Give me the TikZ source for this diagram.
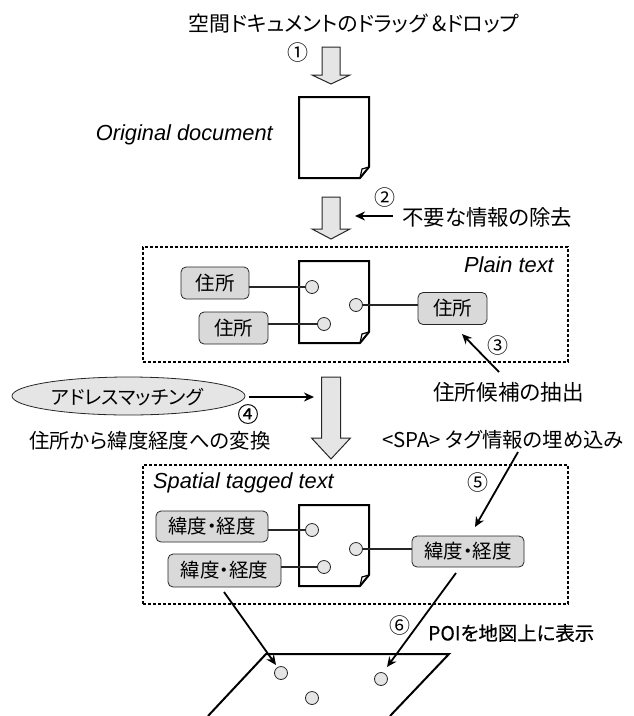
\documentclass[tikz,border=0pt]{standalone}
\usepackage{fontspec}
\setmainfont{Liberation Sans}
\newfontfamily\jp[RawFeature=+palt]{Noto Sans CJK JP}
\newfontfamily\jpheavy[RawFeature=+palt,FakeBold=0.6]{Noto Sans CJK JP}
\usetikzlibrary{arrows.meta,shapes.geometric}
\newcommand{\blockarrow}[6]{% xl xr yt ys xtip ytip
  \draw[blockstyle] (#1,#3) -- (#2,#3) -- (#2,#4) -- (#2+10,#4) -- (#5,#6) -- (#1-10,#4) -- (#1,#4) -- cycle;}
\newcommand{\docsheet}[4]{% x0 x1 y0 y1
  \draw[sheet] (#1,#3) -- (#2,#3) -- (#2,#4-11) -- (#2-9,#4) -- (#1,#4) -- cycle;
  \draw[line width=1.2pt] (#2-9,#4) -- (#2-7,#4-9) -- (#2,#4-11);}
\tikzset{
  blockstyle/.style={draw=black!85,fill=black!10,line width=1pt,line join=miter},
  sheet/.style={draw=black,fill=white,line width=2pt,line join=miter},
  tagbox/.style={draw=black!85,fill=black!15,rounded corners=5pt,line width=0.8pt,inner sep=0pt,font=\fontsize{19.5}{19.5}\selectfont\jp},
  dot/.style={circle,draw=black!85,fill=black!10,line width=0.8pt,minimum size=13pt,inner sep=0pt},
  frame/.style={draw=black,dashed,dash pattern=on 3pt off 2pt,line width=1.4pt,inner sep=0pt},
  jptext/.style={font=\fontsize{20.4}{20.4}\selectfont\jp,inner sep=0pt},
  num/.style={font=\fontsize{21}{21}\selectfont\jp,inner sep=0pt},
  latin/.style={font=\fontsize{21.8}{21.8}\selectfont\itshape,inner sep=0pt},
  link/.style={draw=black!85,line width=1.1pt},
  pointer/.style={draw=black,line width=1.8pt,-{Stealth[length=10pt,width=9pt]}},
}
\begin{document}
\begin{tikzpicture}[x=1pt,y=-1pt]
\useasboundingbox (0,0) rectangle (633,716);
% frames
\node[frame,minimum width=425pt,minimum height=115pt] (plainframe) at (355.5,304.5) {};
\node[frame,minimum width=425pt,minimum height=139pt] (spatialframe) at (355.5,534.5) {};
% texts
\node[jptext,font=\fontsize{20.9}{20.9}\selectfont\jp] (title) at (354,24) {空間ドキュメントのドラッグ \&ドロップ};
\node[num] (n1) at (298,53) {①};
\blockarrow{322}{340}{47}{75}{331}{84}
\docsheet{299}{369}{97}{178}
\node[latin,anchor=east] (orig) at (273,135) {Original document};
\blockarrow{322}{340}{197}{229}{331}{239}
\node[num] (n2) at (385,198) {②};
\node[jptext,font=\fontsize{21.4}{21.4}\selectfont\jp,anchor=west] (removal) at (402,217) {不要な情報の除去};
\coordinate (removalarrow) at (355,216);
\draw[pointer] (393,216) -- (removalarrow);
% plain text
\node[latin,anchor=east] (plainlabel) at (554,265) {Plain text};
\docsheet{299}{369}{261}{343}
\node[tagbox,minimum width=68pt,minimum height=32pt] (a1) at (215,283) {住所};
\node[tagbox,minimum width=69pt,minimum height=32pt] (a2) at (233.5,328) {住所};
\node[tagbox,minimum width=69pt,minimum height=32pt] (a3) at (452.5,308.5) {住所};
\node[dot] (c1) at (312,287) {};
\node[dot] (c2) at (324,324) {};
\node[dot] (c3) at (356,305) {};
\draw[link] (a1.east |- c1) -- (c1);
\draw[link] (a2.east |- c2) -- (c2);
\draw[link] (c3) -- (a3.west |- c3);
\node[num] (n3) at (498,346) {③};
\node[jptext,font=\fontsize{21.6}{21.6}\selectfont\jp] (extract) at (508.5,392) {住所候補の抽出};
\coordinate (extractfoot) at (499,372);
\coordinate (extracthead) at (462,334);
\draw[pointer] (extractfoot) -- (extracthead);
% matching
\node[ellipse,draw=black!85,fill=black!10,line width=0.8pt,minimum width=233pt,minimum height=38pt,inner sep=0pt] (match) at (128.5,396) {};
\node[jptext,font=\fontsize{19.3}{19.3}\selectfont\jp] (matchtext) at (127.5,397) {アドレスマッチング};
\blockarrow{321.5}{340.5}{377}{438}{331}{459}
\coordinate (matchhead) at (314,397);
\draw[pointer] (249,397) -- (matchhead);
\node[num,font=\fontsize{21}{21}\selectfont\jpheavy] (n4) at (248,414) {④};
\node[jptext] (convert) at (150,441) {住所から緯度経度への変換};
\node[jptext] (spa) at (503,440) {<SPA> タグ情報の埋め込み};
% spatial
\node[latin,anchor=west] (spatiallabel) at (153,483) {Spatial tagged text};
\node[num] (n5) at (478,483) {⑤};
\docsheet{299}{369}{505}{586}
\node[tagbox,minimum width=112pt,minimum height=31pt] (b1) at (212,526.5) {緯度・経度};
\node[tagbox,minimum width=113pt,minimum height=33pt] (b2) at (224.5,570.5) {緯度・経度};
\node[tagbox,minimum width=112pt,minimum height=31pt] (b3) at (468,551.5) {緯度・経度};
\node[dot] (d1) at (312,530) {};
\node[dot] (d2) at (324,567) {};
\node[dot] (d3) at (356,549) {};
\draw[link] (b1.east |- d1) -- (d1);
\draw[link] (b2.east |- d2) -- (d2);
\draw[link] (d3) -- (b3.west |- d3);
\coordinate (spafoot) at (518,452);
\coordinate (spahead) at (475,527);
\draw[pointer] (spafoot) -- (spahead);
% map
\draw[line width=2pt,line join=miter] (208,716) -- (266,654) -- (449,654) -- (390,716);
\node[dot] (m1) at (281,673) {};
\node[dot] (m2) at (381,679) {};
\node[dot] (m3) at (312,698) {};
\coordinate (poia) at (224,592);
\coordinate (poib) at (456,573);
\coordinate (poiaend) at (276,665);
\coordinate (poibend) at (387,667);
\draw[pointer] (poia) -- (poiaend);
\draw[pointer] (poib) -- (poibend);
\node[num] (n6) at (400,626) {⑥};
\node[jptext,anchor=west,font=\fontsize{19.4}{19.4}\selectfont\jpheavy] (poi) at (428,633) {POIを地図上に表示};
\end{tikzpicture}
\end{document}
